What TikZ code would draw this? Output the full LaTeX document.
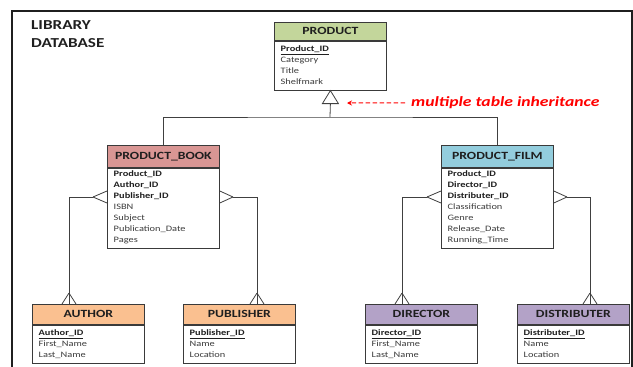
\documentclass[tikz,border=0pt]{standalone}
\usepackage{fontspec}
\setmainfont{Carlito}[FakeStretch=1.25]
\usetikzlibrary{arrows.meta}
\definecolor{bordc}{HTML}{3A3A3A}
\definecolor{linec}{HTML}{404040}
\definecolor{cgreen}{HTML}{C3D69B}
\definecolor{cred}{HTML}{D99694}
\definecolor{cblue}{HTML}{93CDDD}
\definecolor{corange}{HTML}{FAC090}
\definecolor{cpurple}{HTML}{B3A2C7}
\definecolor{txtc}{HTML}{1F1F1F}
\definecolor{txtr}{HTML}{3C3C3C}
\definecolor{arrowred}{HTML}{FF0000}
\tikzset{
  hdr/.style={draw=bordc, line width=0.8pt, anchor=north west, inner sep=0pt,
    minimum width=112pt, text height=7pt, text depth=0pt,
    font=\bfseries\fontsize{11}{11}\selectfont, text=txtc},
  bodybox/.style={draw=bordc, line width=0.8pt, fill=white, anchor=north west,
    inner sep=0pt, minimum width=112pt},
  fld/.style={anchor=base west, inner sep=0pt, font=\fontsize{8.3}{10}\selectfont, text=txtr},
  key/.style={anchor=base west, inner sep=0pt, font=\bfseries\fontsize{8.3}{10}\selectfont, text=txtc},
  conn/.style={draw=linec, line width=0.8pt},
  redarr/.style={draw=arrowred, line width=1pt, dash pattern=on 4.5pt off 2.5pt,
    -{Stealth[length=5pt,width=5pt]}},
  framestyle/.style={draw=black!88, line width=1.8pt},
  titlestyle/.style={anchor=base west, inner sep=0pt, font=\bfseries\fontsize{13.7}{14}\selectfont, text=txtc},
}
\newcommand\mkentity[7]{%
  \node[hdr, fill=#6, minimum height=#4pt] (#1) at (#2,#3) {#7};
  \node[bodybox, minimum height=#5pt] (#1-b) at (#1.south west) {};
}
\newcommand\mkfield[5]{%
  \node[#2] (#1) at ([xshift=6.5pt,yshift=-#4pt]#3.north west) {#5};
}
\begin{document}
\begin{tikzpicture}[x=1pt,y=-1pt]
\useasboundingbox (0,0) rectangle (633,367);
% frame
\draw[framestyle] (12,370) -- (12,11) -- (632,11) -- (632,370);
% title
\node[titlestyle] (title1) at (31,29) {LIBRARY};
\node[titlestyle] (title2) at (31,47) {DATABASE};

% entities
\mkentity{prod}{274}{22}{18}{49}{cgreen}{PRODUCT}
\mkentity{book}{107}{145}{22}{80}{cred}{PRODUCT\_BOOK}
\mkentity{film}{441}{145}{22}{80}{cblue}{PRODUCT\_FILM}
\mkentity{author}{32}{304}{20}{38}{corange}{AUTHOR}
\mkentity{publ}{183}{304}{20}{38}{corange}{PUBLISHER}
\mkentity{dir}{365}{304}{20}{38}{cpurple}{DIRECTOR}
\mkentity{dist}{517}{304}{20}{38}{cpurple}{DISTRIBUTER}

% fields
\mkfield{p1}{key}{prod-b}{11}{\underline{Product\_ID}}
\mkfield{p2}{fld}{prod-b}{22}{Category}
\mkfield{p3}{fld}{prod-b}{33}{Title}
\mkfield{p4}{fld}{prod-b}{44}{Shelfmark}

\mkfield{b1}{key}{book-b}{9}{Product\_ID}
\mkfield{b2}{key}{book-b}{20}{Author\_ID}
\mkfield{b3}{key}{book-b}{31}{Publisher\_ID}
\mkfield{b4}{fld}{book-b}{42}{ISBN}
\mkfield{b5}{fld}{book-b}{53}{Subject}
\mkfield{b6}{fld}{book-b}{64}{Publication\_Date}
\mkfield{b7}{fld}{book-b}{75}{Pages}

\mkfield{f1}{key}{film-b}{9}{Product\_ID}
\mkfield{f2}{key}{film-b}{20}{Director\_ID}
\mkfield{f3}{key}{film-b}{31}{Distributer\_ID}
\mkfield{f4}{fld}{film-b}{42}{Classification}
\mkfield{f5}{fld}{film-b}{53}{Genre}
\mkfield{f6}{fld}{film-b}{64}{Release\_Date}
\mkfield{f7}{fld}{film-b}{75}{Running\_Time}

\mkfield{a1}{key}{author-b}{11}{\underline{Author\_ID}}
\mkfield{a2}{fld}{author-b}{22}{First\_Name}
\mkfield{a3}{fld}{author-b}{33}{Last\_Name}

\mkfield{u1}{key}{publ-b}{11}{\underline{Publisher\_ID}}
\mkfield{u2}{fld}{publ-b}{22}{Name}
\mkfield{u3}{fld}{publ-b}{33}{Location}

\mkfield{d1}{key}{dir-b}{11}{\underline{Director\_ID}}
\mkfield{d2}{fld}{dir-b}{22}{First\_Name}
\mkfield{d3}{fld}{dir-b}{33}{Last\_Name}

\mkfield{s1}{key}{dist-b}{11}{\underline{Distributer\_ID}}
\mkfield{s2}{fld}{dist-b}{22}{Name}
\mkfield{s3}{fld}{dist-b}{33}{Location}

% inheritance
\coordinate (tribase) at ([yshift=-13pt]prod-b.south);
\coordinate (junc) at (330,117);
\draw[conn, fill=white] (prod-b.south) -- ([xshift=-8pt]tribase) -- ([xshift=8pt]tribase) -- cycle;
\draw[conn] (tribase) -- (junc);
\draw[conn] (book.north) |- (junc) -| (film.north);

% red annotation
\node[anchor=base west, inner sep=0pt, font=\bfseries\itshape\fontsize{14.1}{15}\selectfont, text=arrowred] (lbl) at (411,106.8) {multiple table inheritance};
\coordinate (arrtip) at (347,103);
\draw[redarr] ([xshift=-6pt]lbl.west) -- (arrtip);

% crow's feet: book -> author
\coordinate (blapex) at (93,197);
\coordinate (atop) at ([xshift=37pt]author.north west);
\coordinate (aapex) at ([yshift=11pt]atop);
\draw[conn] (blapex) -- (book-b.west |- 0,191);
\draw[conn] (blapex) -- (book-b.west |- 0,203);
\draw[conn] (blapex) -| (atop);
\draw[conn] (aapex) -- ([xshift=-7pt]atop);
\draw[conn] (aapex) -- ([xshift=7pt]atop);

% book -> publisher
\coordinate (brapex) at (233,197);
\coordinate (utop) at ([xshift=74pt]publ.north west);
\coordinate (uapex) at ([yshift=11pt]utop);
\draw[conn] (brapex) -- (book-b.east |- 0,191);
\draw[conn] (brapex) -- (book-b.east |- 0,203);
\draw[conn] (brapex) -| (utop);
\draw[conn] (uapex) -- ([xshift=-7pt]utop);
\draw[conn] (uapex) -- ([xshift=7pt]utop);

% film -> director
\coordinate (flapex) at (427,197);
\coordinate (dtop) at ([xshift=37pt]dir.north west);
\coordinate (dapex) at ([yshift=11pt]dtop);
\draw[conn] (flapex) -- (film-b.west |- 0,191);
\draw[conn] (flapex) -- (film-b.west |- 0,203);
\draw[conn] (flapex) -| (dtop);
\draw[conn] (dapex) -- ([xshift=-7pt]dtop);
\draw[conn] (dapex) -- ([xshift=7pt]dtop);

% film -> distributer
\coordinate (frapex) at (567,197);
\coordinate (stop) at ([xshift=73pt]dist.north west);
\coordinate (sapex) at ([yshift=11pt]stop);
\draw[conn] (frapex) -- (film-b.east |- 0,191);
\draw[conn] (frapex) -- (film-b.east |- 0,203);
\draw[conn] (frapex) -| (stop);
\draw[conn] (sapex) -- ([xshift=-7pt]stop);
\draw[conn] (sapex) -- ([xshift=7pt]stop);
\end{tikzpicture}
\end{document}
